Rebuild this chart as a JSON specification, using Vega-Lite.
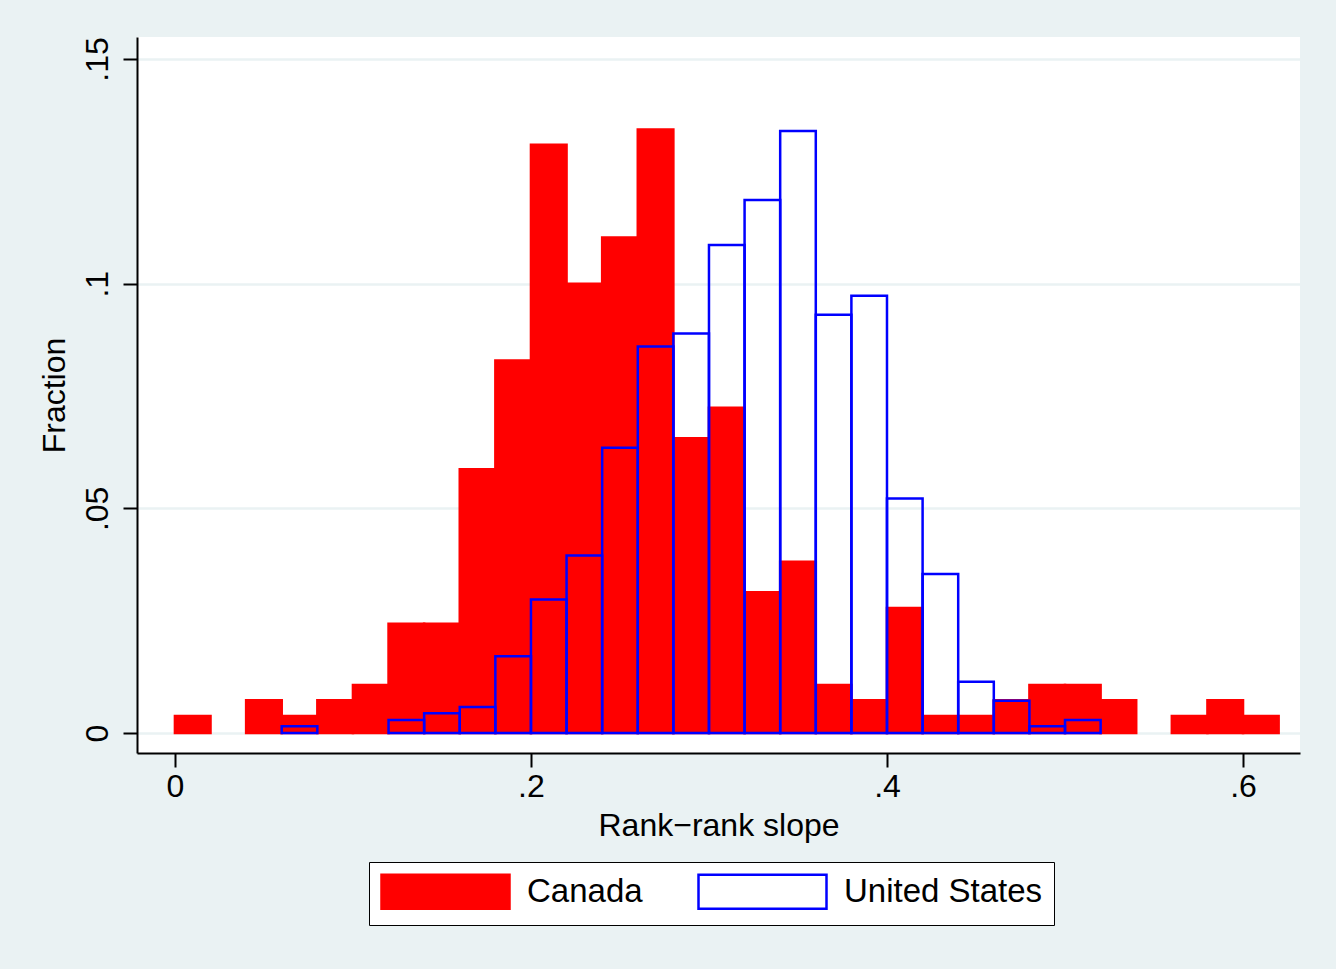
{
  "$schema": "https://vega.github.io/schema/vega-lite/v6.json",
  "width": 1163,
  "height": 716,
  "autosize": {"type": "none"},
  "padding": {"left": 137, "top": 37, "right": 36, "bottom": 216},
  "background": "#eaf2f3",
  "config": {
    "view": {"fill": "white", "stroke": null},
    "font": "Liberation Sans"
  },
  "data": {
    "values": [
      {"country": "Canada", "bin_start": 0.00, "bin_end": 0.02, "fraction": 0.0038},
      {"country": "Canada", "bin_start": 0.04, "bin_end": 0.06, "fraction": 0.0073},
      {"country": "Canada", "bin_start": 0.06, "bin_end": 0.08, "fraction": 0.0038},
      {"country": "Canada", "bin_start": 0.08, "bin_end": 0.10, "fraction": 0.0073},
      {"country": "Canada", "bin_start": 0.10, "bin_end": 0.12, "fraction": 0.0107},
      {"country": "Canada", "bin_start": 0.12, "bin_end": 0.14, "fraction": 0.0243},
      {"country": "Canada", "bin_start": 0.14, "bin_end": 0.16, "fraction": 0.0243},
      {"country": "Canada", "bin_start": 0.16, "bin_end": 0.18, "fraction": 0.0587},
      {"country": "Canada", "bin_start": 0.18, "bin_end": 0.20, "fraction": 0.0829},
      {"country": "Canada", "bin_start": 0.20, "bin_end": 0.22, "fraction": 0.1309},
      {"country": "Canada", "bin_start": 0.22, "bin_end": 0.24, "fraction": 0.1000},
      {"country": "Canada", "bin_start": 0.24, "bin_end": 0.26, "fraction": 0.1103},
      {"country": "Canada", "bin_start": 0.26, "bin_end": 0.28, "fraction": 0.1343},
      {"country": "Canada", "bin_start": 0.28, "bin_end": 0.30, "fraction": 0.0656},
      {"country": "Canada", "bin_start": 0.30, "bin_end": 0.32, "fraction": 0.0724},
      {"country": "Canada", "bin_start": 0.32, "bin_end": 0.34, "fraction": 0.0313},
      {"country": "Canada", "bin_start": 0.34, "bin_end": 0.36, "fraction": 0.0381},
      {"country": "Canada", "bin_start": 0.36, "bin_end": 0.38, "fraction": 0.0107},
      {"country": "Canada", "bin_start": 0.38, "bin_end": 0.40, "fraction": 0.0073},
      {"country": "Canada", "bin_start": 0.40, "bin_end": 0.42, "fraction": 0.0278},
      {"country": "Canada", "bin_start": 0.42, "bin_end": 0.44, "fraction": 0.0038},
      {"country": "Canada", "bin_start": 0.44, "bin_end": 0.46, "fraction": 0.0038},
      {"country": "Canada", "bin_start": 0.46, "bin_end": 0.48, "fraction": 0.0073},
      {"country": "Canada", "bin_start": 0.48, "bin_end": 0.50, "fraction": 0.0107},
      {"country": "Canada", "bin_start": 0.50, "bin_end": 0.52, "fraction": 0.0107},
      {"country": "Canada", "bin_start": 0.52, "bin_end": 0.54, "fraction": 0.0073},
      {"country": "Canada", "bin_start": 0.56, "bin_end": 0.58, "fraction": 0.0038},
      {"country": "Canada", "bin_start": 0.58, "bin_end": 0.60, "fraction": 0.0073},
      {"country": "Canada", "bin_start": 0.60, "bin_end": 0.62, "fraction": 0.0038},
      {"country": "United States", "bin_start": 0.06, "bin_end": 0.08, "fraction": 0.0015},
      {"country": "United States", "bin_start": 0.12, "bin_end": 0.14, "fraction": 0.0029},
      {"country": "United States", "bin_start": 0.14, "bin_end": 0.16, "fraction": 0.0044},
      {"country": "United States", "bin_start": 0.16, "bin_end": 0.18, "fraction": 0.0058},
      {"country": "United States", "bin_start": 0.18, "bin_end": 0.20, "fraction": 0.0171},
      {"country": "United States", "bin_start": 0.20, "bin_end": 0.22, "fraction": 0.0297},
      {"country": "United States", "bin_start": 0.22, "bin_end": 0.24, "fraction": 0.0395},
      {"country": "United States", "bin_start": 0.24, "bin_end": 0.26, "fraction": 0.0635},
      {"country": "United States", "bin_start": 0.26, "bin_end": 0.28, "fraction": 0.0860},
      {"country": "United States", "bin_start": 0.28, "bin_end": 0.30, "fraction": 0.0889},
      {"country": "United States", "bin_start": 0.30, "bin_end": 0.32, "fraction": 0.1086},
      {"country": "United States", "bin_start": 0.32, "bin_end": 0.34, "fraction": 0.1186},
      {"country": "United States", "bin_start": 0.34, "bin_end": 0.36, "fraction": 0.1340},
      {"country": "United States", "bin_start": 0.36, "bin_end": 0.38, "fraction": 0.0931},
      {"country": "United States", "bin_start": 0.38, "bin_end": 0.40, "fraction": 0.0973},
      {"country": "United States", "bin_start": 0.40, "bin_end": 0.42, "fraction": 0.0522},
      {"country": "United States", "bin_start": 0.42, "bin_end": 0.44, "fraction": 0.0354},
      {"country": "United States", "bin_start": 0.44, "bin_end": 0.46, "fraction": 0.0114},
      {"country": "United States", "bin_start": 0.46, "bin_end": 0.48, "fraction": 0.0072},
      {"country": "United States", "bin_start": 0.48, "bin_end": 0.50, "fraction": 0.0015},
      {"country": "United States", "bin_start": 0.50, "bin_end": 0.52, "fraction": 0.0029}
    ]
  },
  "mark": {"type": "bar", "strokeWidth": 2.5, "strokeJoin": "miter"},
  "encoding": {
    "x": {
      "field": "bin_start",
      "type": "quantitative",
      "scale": {"domain": [-0.0213, 0.632], "nice": false, "zero": false},
      "axis": {
        "values": [0, 0.2, 0.4, 0.6],
        "labelExpr": "replace(format(datum.value, '.2~f'), '0.', '.')",
        "grid": false,
        "title": "Rank−rank slope",
        "titleFontSize": 32,
        "titleFontWeight": "normal",
        "titleColor": "black",
        "titlePadding": 8,
        "labelFontSize": 32,
        "labelColor": "black",
        "labelPadding": 4,
        "labelFlush": false,
        "tickSize": 14,
        "tickWidth": 2,
        "tickColor": "black",
        "domainWidth": 2,
        "domainColor": "black"
      }
    },
    "x2": {"field": "bin_end"},
    "y": {
      "field": "fraction",
      "type": "quantitative",
      "scale": {"domain": [-0.00445, 0.1549], "nice": false, "zero": false},
      "axis": {
        "values": [0, 0.05, 0.1, 0.15],
        "labelExpr": "replace(format(datum.value, '.2~f'), '0.', '.')",
        "grid": true,
        "gridColor": "#eaf2f3",
        "gridWidth": 2.5,
        "title": "Fraction",
        "titleFontSize": 32,
        "titleFontWeight": "normal",
        "titleColor": "black",
        "titlePadding": 10,
        "labelFontSize": 32,
        "labelColor": "black",
        "labelAngle": 270,
        "labelAlign": "center",
        "labelBaseline": "alphabetic",
        "labelPadding": 16,
        "labelFlush": false,
        "tickSize": 14,
        "tickWidth": 2,
        "tickColor": "black",
        "domainWidth": 2,
        "domainColor": "black"
      }
    },
    "y2": {"datum": 0},
    "fill": {
      "field": "country",
      "type": "nominal",
      "scale": {"domain": ["Canada", "United States"], "range": ["#ff0000", "transparent"]},
      "legend": {
        "title": null,
        "orient": "none",
        "legendX": 232,
        "legendY": 825,
        "direction": "horizontal",
        "padding": 11,
        "fillColor": "white",
        "strokeColor": "black",
        "cornerRadius": 0,
        "symbolType": "M-1,-1H6.5294V1H-1Z",
        "symbolSize": 1156,
        "symbolStrokeWidth": 2.5,
        "labelOffset": 110,
        "labelFontSize": 33,
        "labelColor": "black",
        "labelLimit": 400,
        "columnPadding": 50
      }
    },
    "stroke": {
      "field": "country",
      "type": "nominal",
      "scale": {"domain": ["Canada", "United States"], "range": ["#ff0000", "#0000ff"]},
      "legend": {
        "title": null,
        "orient": "none",
        "legendX": 232,
        "legendY": 825,
        "direction": "horizontal",
        "padding": 11,
        "fillColor": "white",
        "strokeColor": "black",
        "cornerRadius": 0,
        "symbolType": "M-1,-1H6.5294V1H-1Z",
        "symbolSize": 1156,
        "symbolStrokeWidth": 2.5,
        "labelOffset": 110,
        "labelFontSize": 33,
        "labelColor": "black",
        "labelLimit": 400,
        "columnPadding": 50
      }
    }
  }
}
